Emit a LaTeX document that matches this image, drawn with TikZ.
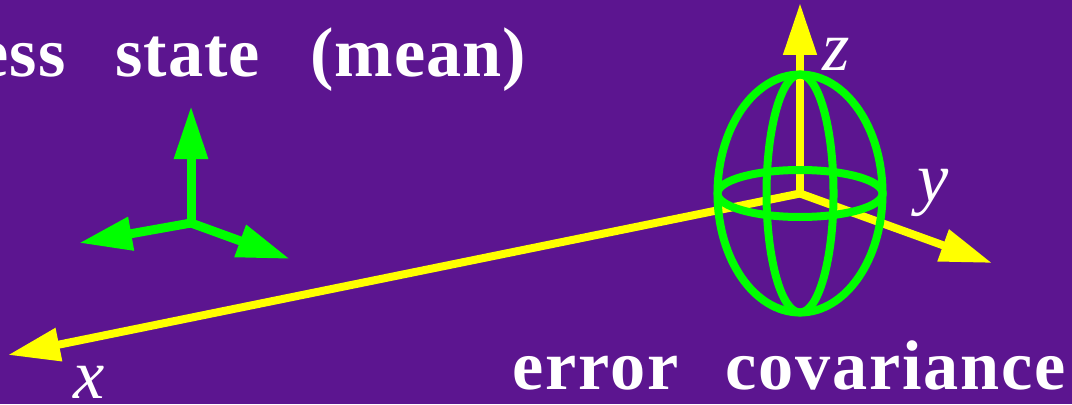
\documentclass[tikz,border=0pt]{standalone}
\usepackage{fontspec}
\setmainfont{Liberation Serif}
\usetikzlibrary{arrows.meta}
\definecolor{bgpurple}{HTML}{5C1590}
\definecolor{axisyellow}{HTML}{FFFF00}
\definecolor{ellgreen}{HTML}{00FF00}

\begin{document}
\begin{tikzpicture}[
 yaxis/.style={draw=axisyellow,line width=0.08cm,-{Triangle[length=5.2mm,width=3.2mm,fill=axisyellow]}},
 gaxis/.style={draw=ellgreen,line width=0.09cm,-{Triangle[length=5.3mm,width=3.2mm,fill=ellgreen]}},
 ell/.style={draw=ellgreen,line width=0.08cm},
 heading/.style={font=\fontsize{20}{24}\selectfont\bfseries\addfontfeature{LetterSpace=#1},text=white,inner sep=0pt},
 axlabel/.style={font=\fontsize{20}{24}\selectfont\itshape,text=white,inner sep=0pt}]

\useasboundingbox (0,0) rectangle (10.72,4.04);
\fill[bgpurple] (0,0) rectangle (10.72,4.04);
\clip (0,0) rectangle (10.72,4.04);

% Small triad on the left.
\coordinate (mean) at (1.91,1.81);
\coordinate (meanz) at (1.91,2.98);
\coordinate (meanx) at (0.79,1.61);
\coordinate (meany) at (2.90,1.45);
\draw[gaxis] (mean) -- (meanz);
\draw[gaxis] (mean) -- (meanx);
\draw[gaxis] (mean) -- (meany);

% Large axes, with the ellipsoid over them.
\coordinate (orig) at (8.00,2.105);
\coordinate (tipz) at (8.00,4.01);
\coordinate (tipx) at (0.08,0.49);
\coordinate (tipy) at (9.92,1.41);
\draw[yaxis] (orig) -- (tipz);
\draw[yaxis] (orig) -- (tipx);
\draw[yaxis] (orig) -- (tipy);

\draw[ell] (orig) ellipse (0.825 and 1.19);
\draw[ell] (orig) ellipse (0.335 and 1.19);
\draw[ell] (orig) ellipse (0.825 and 0.235);

\node[axlabel,anchor=base] (labz) at (8.36,3.33) {z};
\node[axlabel,anchor=base] (laby) at (9.33,2.02) {y};
\node[axlabel,anchor=base] (labx) at (0.89,0.06) {x};

\node[heading=1.5,anchor=base east] (state) at (5.27,3.27) {ess\hspace{0.5cm}state\hspace{0.5cm}(mean)};
\node[heading=2.5,anchor=base west] (cov) at (5.12,0.15) {error\hspace{0.47cm}covariance};
\end{tikzpicture}
\end{document}
